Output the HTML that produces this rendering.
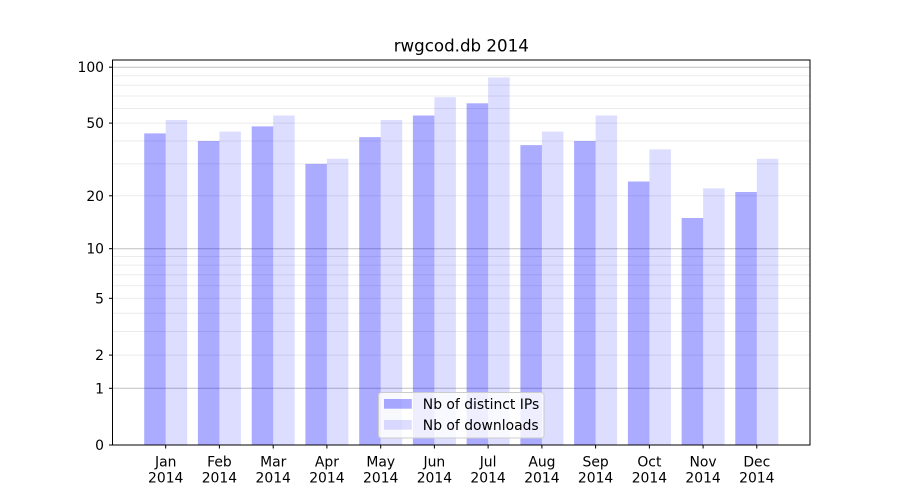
<!DOCTYPE html>
<html><head><meta charset="utf-8"><style>
html,body{margin:0;padding:0;background:#fff;}
svg{display:block;font-family:"DejaVu Sans","Liberation Sans",sans-serif;}
</style></head><body>
<svg width="900" height="500" viewBox="0 0 900 500" xmlns="http://www.w3.org/2000/svg">
<rect width="900" height="500" fill="#fff"/>
<!-- minor/light grid -->
<g stroke="#ebebeb" stroke-width="1">
<line x1="112.5" x2="810" y1="355.1" y2="355.1"/>
<line x1="112.5" x2="810" y1="331.5" y2="331.5"/>
<line x1="112.5" x2="810" y1="313.2" y2="313.2"/>
<line x1="112.5" x2="810" y1="298.3" y2="298.3"/>
<line x1="112.5" x2="810" y1="285.7" y2="285.7"/>
<line x1="112.5" x2="810" y1="274.8" y2="274.8"/>
<line x1="112.5" x2="810" y1="265.1" y2="265.1"/>
<line x1="112.5" x2="810" y1="256.5" y2="256.5"/>
<line x1="112.5" x2="810" y1="195.8" y2="195.8"/>
<line x1="112.5" x2="810" y1="163.9" y2="163.9"/>
<line x1="112.5" x2="810" y1="141.0" y2="141.0"/>
<line x1="112.5" x2="810" y1="123.1" y2="123.1"/>
<line x1="112.5" x2="810" y1="108.5" y2="108.5"/>
<line x1="112.5" x2="810" y1="96.0" y2="96.0"/>
<line x1="112.5" x2="810" y1="85.2" y2="85.2"/>
<line x1="112.5" x2="810" y1="75.7" y2="75.7"/>
</g>
<g stroke="#c0c0c0" stroke-width="1">
<line x1="112.5" x2="810" y1="388.3" y2="388.3"/>
<line x1="112.5" x2="810" y1="248.7" y2="248.7"/>
<line x1="112.5" x2="810" y1="67.2" y2="67.2"/>
</g>
<!-- bars -->
<g fill="#0000ff" fill-opacity="0.33">
<rect x="144.2" y="133.4" width="21.5" height="311.6"/>
<rect x="197.9" y="141.0" width="21.5" height="304.0"/>
<rect x="251.7" y="126.4" width="21.5" height="318.6"/>
<rect x="305.4" y="163.9" width="21.5" height="281.1"/>
<rect x="359.2" y="137.1" width="21.5" height="307.9"/>
<rect x="412.9" y="115.5" width="21.5" height="329.5"/>
<rect x="466.6" y="103.3" width="21.5" height="341.7"/>
<rect x="520.4" y="145.1" width="21.5" height="299.9"/>
<rect x="574.1" y="141.0" width="21.5" height="304.0"/>
<rect x="627.9" y="181.5" width="21.5" height="263.5"/>
<rect x="681.6" y="218.0" width="21.5" height="227.0"/>
<rect x="735.3" y="192.0" width="21.5" height="253.0"/>
</g>
<g fill="#0000ff" fill-opacity="0.135">
<rect x="165.7" y="120.0" width="21.5" height="325.0"/>
<rect x="219.4" y="131.6" width="21.5" height="313.4"/>
<rect x="273.2" y="115.5" width="21.5" height="329.5"/>
<rect x="326.9" y="158.8" width="21.5" height="286.2"/>
<rect x="380.7" y="120.0" width="21.5" height="325.0"/>
<rect x="434.4" y="97.2" width="21.5" height="347.8"/>
<rect x="488.1" y="77.5" width="21.5" height="367.5"/>
<rect x="541.9" y="131.6" width="21.5" height="313.4"/>
<rect x="595.6" y="115.5" width="21.5" height="329.5"/>
<rect x="649.4" y="149.4" width="21.5" height="295.6"/>
<rect x="703.1" y="188.3" width="21.5" height="256.7"/>
<rect x="756.8" y="158.8" width="21.5" height="286.2"/>
</g>
<!-- axes frame -->
<rect x="112.5" y="60" width="697.5" height="385" fill="none" stroke="#000" stroke-width="1"/>
<!-- y ticks -->
<g stroke="#000" stroke-width="1">
<line x1="109" x2="112.5" y1="445" y2="445"/>
<line x1="109" x2="112.5" y1="388.3" y2="388.3"/>
<line x1="109" x2="112.5" y1="355.1" y2="355.1"/>
<line x1="109" x2="112.5" y1="298.3" y2="298.3"/>
<line x1="109" x2="112.5" y1="248.7" y2="248.7"/>
<line x1="109" x2="112.5" y1="195.8" y2="195.8"/>
<line x1="109" x2="112.5" y1="123.1" y2="123.1"/>
<line x1="109" x2="112.5" y1="67.2" y2="67.2"/>
</g>
<g font-size="13.9" fill="#000" text-anchor="end">
<text x="104" y="450">0</text>
<text x="104" y="393.3">1</text>
<text x="104" y="360.1">2</text>
<text x="104" y="303.3">5</text>
<text x="104" y="253.7">10</text>
<text x="104" y="200.8">20</text>
<text x="104" y="128.1">50</text>
<text x="104" y="72.2">100</text>
</g>
<!-- x ticks -->
<g stroke="#000" stroke-width="1">
<line x1="165.7" x2="165.7" y1="445" y2="448.5"/>
<line x1="219.4" x2="219.4" y1="445" y2="448.5"/>
<line x1="273.2" x2="273.2" y1="445" y2="448.5"/>
<line x1="326.9" x2="326.9" y1="445" y2="448.5"/>
<line x1="380.7" x2="380.7" y1="445" y2="448.5"/>
<line x1="434.4" x2="434.4" y1="445" y2="448.5"/>
<line x1="488.1" x2="488.1" y1="445" y2="448.5"/>
<line x1="541.9" x2="541.9" y1="445" y2="448.5"/>
<line x1="595.6" x2="595.6" y1="445" y2="448.5"/>
<line x1="649.4" x2="649.4" y1="445" y2="448.5"/>
<line x1="703.1" x2="703.1" y1="445" y2="448.5"/>
<line x1="756.8" x2="756.8" y1="445" y2="448.5"/>
</g>
<g font-size="13.9" fill="#000" text-anchor="middle">
<text x="165.7" y="466.3">Jan</text><text x="165.7" y="482.5">2014</text>
<text x="219.4" y="466.3">Feb</text><text x="219.4" y="482.5">2014</text>
<text x="273.2" y="466.3">Mar</text><text x="273.2" y="482.5">2014</text>
<text x="326.9" y="466.3">Apr</text><text x="326.9" y="482.5">2014</text>
<text x="380.7" y="466.3">May</text><text x="380.7" y="482.5">2014</text>
<text x="434.4" y="466.3">Jun</text><text x="434.4" y="482.5">2014</text>
<text x="488.1" y="466.3">Jul</text><text x="488.1" y="482.5">2014</text>
<text x="541.9" y="466.3">Aug</text><text x="541.9" y="482.5">2014</text>
<text x="595.6" y="466.3">Sep</text><text x="595.6" y="482.5">2014</text>
<text x="649.4" y="466.3">Oct</text><text x="649.4" y="482.5">2014</text>
<text x="703.1" y="466.3">Nov</text><text x="703.1" y="482.5">2014</text>
<text x="756.8" y="466.3">Dec</text><text x="756.8" y="482.5">2014</text>
</g>
<!-- title -->
<text x="461.25" y="51.7" font-size="16.67" text-anchor="middle" fill="#000">rwgcod.db 2014</text>
<!-- legend -->
<rect x="378.5" y="392.5" width="165.5" height="45.5" rx="2.8" ry="2.8" fill="#fff" fill-opacity="0.8" stroke="#cccccc" stroke-width="1"/>
<rect x="384" y="399" width="27.8" height="9.7" fill="#0000ff" fill-opacity="0.33"/>
<rect x="384" y="420" width="27.8" height="9.7" fill="#0000ff" fill-opacity="0.135"/>
<g font-size="13.9" fill="#000">
<text x="422.8" y="409">Nb of distinct IPs</text>
<text x="422.8" y="430">Nb of downloads</text>
</g>
</svg>
</body></html>
